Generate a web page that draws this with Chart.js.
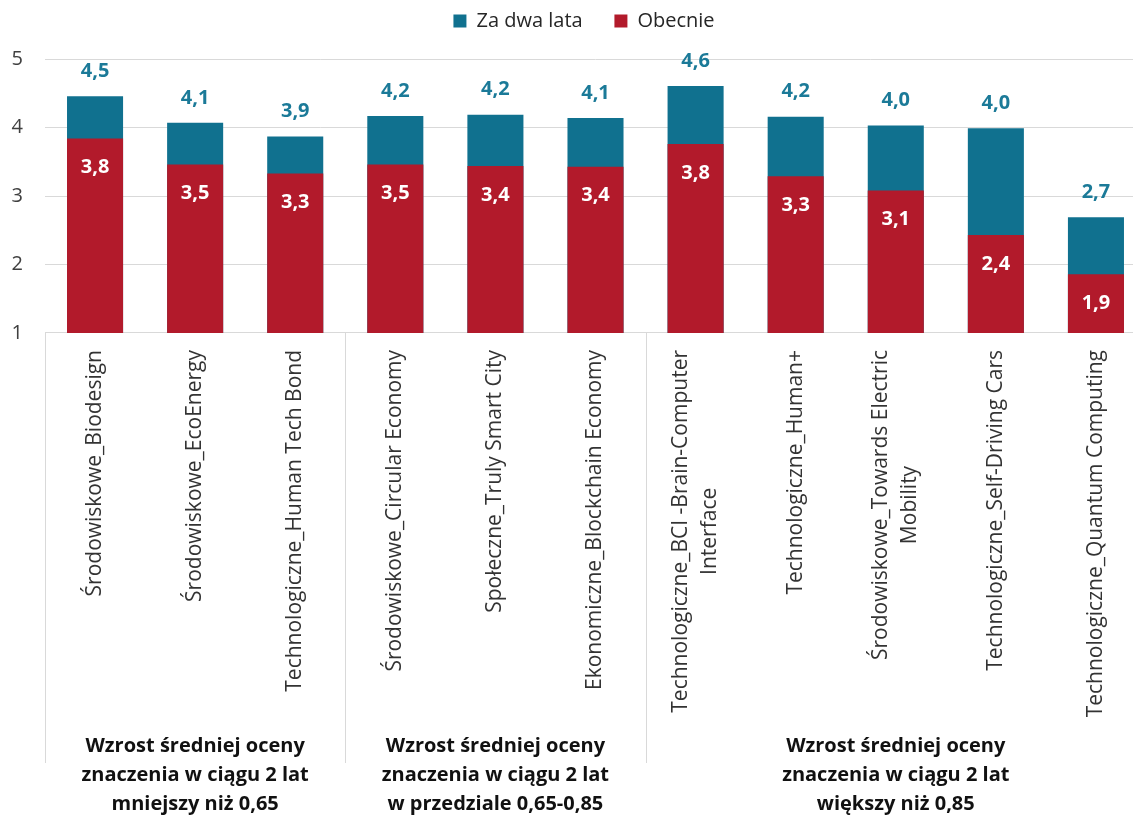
<!DOCTYPE html>
<html><head><meta charset="utf-8">
<script src="https://cdn.jsdelivr.net/npm/chart.js@4.4.1/dist/chart.umd.min.js"></script>
<style>html,body{margin:0;padding:0;overflow:hidden;background:#fff}
#wrap{width:1146px;height:815px;position:relative}</style>
</head><body><div id="wrap"><canvas id="c"></canvas></div>
<script>
const categories = [
  ["Środowiskowe_Biodesign"],
  ["Środowiskowe_EcoEnergy"],
  ["Technologiczne_Human Tech Bond"],
  ["Środowiskowe_Circular Economy"],
  ["Społeczne_Truly Smart City"],
  ["Ekonomiczne_Blockchain Economy"],
  ["Technologiczne_BCI -Brain-Computer", "Interface"],
  ["Technologiczne_Human+"],
  ["Środowiskowe_Towards Electric", "Mobility"],
  ["Technologiczne_Self-Driving Cars"],
  ["Technologiczne_Quantum Computing"]
];
const futureValues  = [4.46, 4.07, 3.87, 4.17, 4.19, 4.14, 4.61, 4.16, 4.03, 3.99, 2.69];
const currentValues = [3.84, 3.46, 3.33, 3.46, 3.44, 3.43, 3.76, 3.29, 3.08, 2.43, 1.86];
const seriesNames = ["Za dwa lata", "Obecnie"];
const groupSizes = [3, 3, 5];
const groupLabels = [
  ["Wzrost średniej oceny", "znaczenia w ciągu 2 lat", "mniejszy niż 0,65"],
  ["Wzrost średniej oceny", "znaczenia w ciągu 2 lat", "w przedziale 0,65-0,85"],
  ["Wzrost średniej oceny", "znaczenia w ciągu 2 lat", "większy niż 0,85"]
];
const yMin = 1, yMax = 5, yStep = 1;

const TEAL = '#10718f', RED = '#b21a2b', LABEL_TEAL = '#1b7a98';
const FONT = '"Open Sans", "DejaVu Sans", sans-serif';
const fmt = v => v.toFixed(1).replace('.', ',');

const overlay = {
  id: 'overlay',
  afterLayout(chart) {
    if (chart.legend) { chart.legend.left += 22; }
  },
  afterDatasetsDraw(chart) {
    const ctx = chart.ctx;
    const mf = chart.getDatasetMeta(0), mc = chart.getDatasetMeta(1);
    ctx.save();
    ctx.font = 'bold 20px ' + FONT;
    ctx.textAlign = 'center';
    ctx.textBaseline = 'middle';
    mf.data.forEach((el, i) => { ctx.fillStyle = LABEL_TEAL; ctx.fillText(fmt(futureValues[i]), el.x, el.y - 25); });
    mc.data.forEach((el, i) => { ctx.fillStyle = '#ffffff'; ctx.fillText(fmt(currentValues[i]), el.x, el.y + 29); });
    ctx.restore();
  },
  afterDraw(chart) {
    const ctx = chart.ctx, xs = chart.scales.x, bottom = chart.chartArea.bottom;
    const cw = xs.width / categories.length;
    ctx.save();
    ctx.font = '21px ' + FONT;
    ctx.fillStyle = '#333333';
    ctx.textAlign = 'center';
    ctx.textBaseline = 'middle';
    const lh = 29;
    categories.forEach((lines, i) => {
      const px = xs.getPixelForTick(i);
      const maxW = Math.max(...lines.map(l => ctx.measureText(l).width));
      ctx.save();
      ctx.translate(px, bottom + 17);
      ctx.rotate(-Math.PI / 2);
      lines.forEach((l, j) => {
        ctx.fillText(l, -maxW / 2, (j - (lines.length - 1) / 2) * lh);
      });
      ctx.restore();
    });
    ctx.strokeStyle = '#d9d9d9';
    ctx.lineWidth = 1;
    ctx.font = 'bold 20px ' + FONT;
    ctx.fillStyle = '#111111';
    let start = 0;
    groupSizes.forEach((n, g) => {
      const lx = Math.round(xs.getPixelForTick(start) - cw / 2) + 0.5;
      ctx.beginPath(); ctx.moveTo(lx, bottom); ctx.lineTo(lx, bottom + 430); ctx.stroke();
      const cx = (xs.getPixelForTick(start) + xs.getPixelForTick(start + n - 1)) / 2;
      groupLabels[g].forEach((t, j) => ctx.fillText(t, cx, bottom + 413 + j * 29));
      start += n;
    });
    ctx.restore();
  }
};

new Chart(document.getElementById('c'), {
  type: 'bar',
  data: {
    labels: categories.map(c => c.join(' ')),
    datasets: [
      { label: seriesNames[0], data: futureValues, backgroundColor: TEAL, order: 2,
        barPercentage: 0.56, categoryPercentage: 1.0, grouped: false },
      { label: seriesNames[1], data: currentValues, backgroundColor: RED, order: 1,
        barPercentage: 0.56, categoryPercentage: 1.0, grouped: false }
    ]
  },
  options: {
    responsive: true,
    maintainAspectRatio: false,
    animation: false,
    layout: { padding: { left: 0, top: 0, right: 0, bottom: 0 } },
    plugins: {
      legend: {
        position: 'top',
        labels: {
          boxWidth: 13, boxHeight: 13, padding: 11,
          font: { family: FONT, size: 20 }, color: '#262626',
          sort: (a, b) => a.datasetIndex - b.datasetIndex,
          generateLabels(chart) {
            const items = Chart.defaults.plugins.legend.labels.generateLabels(chart);
            items.forEach(it => { if (it.datasetIndex === 0) it.text = it.text + '    '; });
            return items;
          }
        }
      },
      title: {
        display: true, text: ' ', position: 'top', weight: 500,
        font: { size: 1 }, padding: { top: 0, bottom: 17 }
      },
      tooltip: { enabled: false }
    },
    scales: {
      x: {
        grid: { display: false },
        border: { display: false },
        ticks: { display: false },
        afterFit(s) { s.height = 482; }
      },
      y: {
        min: yMin, max: yMax,
        ticks: { stepSize: yStep, padding: 22, color: '#404040', font: { family: FONT, size: 20 } },
        grid: { color: '#d9d9d9', drawTicks: false, tickLength: 0 },
        border: { display: false },
        afterFit(s) { s.width = 45; }
      }
    }
  },
  plugins: [overlay]
});
</script>
</body></html>
